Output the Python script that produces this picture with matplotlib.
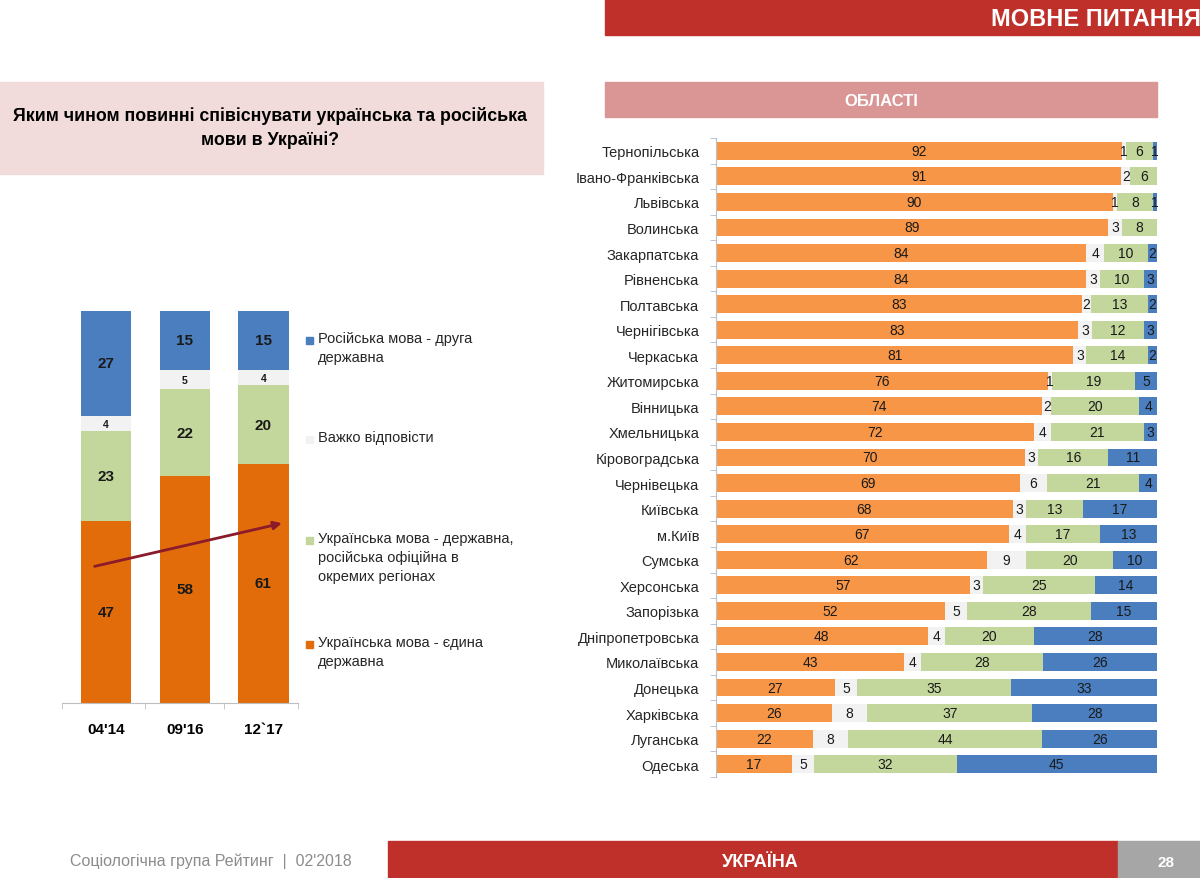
import matplotlib
matplotlib.use("Agg")
import matplotlib.pyplot as plt
from matplotlib.patches import Rectangle
import numpy as np

plt.rcParams['font.family'] = ['Liberation Sans', 'DejaVu Sans']

# ---- left chart data ----
waves = ["04'14", "09'16", "12`17"]
ukr_only = [47, 58, 61]
ukr_rus_regional = [23, 22, 20]
hard_to_say = [4, 5, 4]
rus_second = [27, 15, 15]

legend_labels = [
    "Російська мова - друга\nдержавна",
    "Важко відповісти",
    "Українська мова - державна,\nросійська офіційна в\nокремих регіонах",
    "Українська мова - єдина\nдержавна",
]

# ---- right chart data ----
regions = ["Тернопільська", "Івано-Франківська", "Львівська", "Волинська",
           "Закарпатська", "Рівненська", "Полтавська", "Чернігівська",
           "Черкаська", "Житомирська", "Вінницька", "Хмельницька",
           "Кіровоградська", "Чернівецька", "Київська", "м.Київ", "Сумська",
           "Херсонська", "Запорізька", "Дніпропетровська", "Миколаївська",
           "Донецька", "Харківська", "Луганська", "Одеська"]
reg_ukr_only = [92, 91, 90, 89, 84, 84, 83, 83, 81, 76, 74, 72, 70, 69, 68,
                67, 62, 57, 52, 48, 43, 27, 26, 22, 17]
reg_hard = [1, 2, 1, 3, 4, 3, 2, 3, 3, 1, 2, 4, 3, 6, 3, 4, 9, 3, 5, 4, 4,
            5, 8, 8, 5]
reg_ukr_rus = [6, 6, 8, 8, 10, 10, 13, 12, 14, 19, 20, 21, 16, 21, 13, 17,
               20, 25, 28, 20, 28, 35, 37, 44, 32]
reg_rus_second = [1, 0, 1, 0, 2, 3, 2, 3, 2, 5, 4, 3, 11, 4, 17, 13, 10, 14,
                  15, 28, 26, 33, 28, 26, 45]

ORANGE_DARK = '#E36C0A'
ORANGE = '#F79646'
GREEN = '#C3D69B'
GREY = '#F2F2F2'
BLUE = '#4A7EBE'
RED = '#C0302A'

W, H = 1200, 879
fig = plt.figure(figsize=(12, 8.79), dpi=100)


def box(x0, y0, x1, y1):
    return [x0 / W, 1 - y1 / H, (x1 - x0) / W, (y1 - y0) / H]


def fx(x):
    return x / W


def fy(y):
    return 1 - y / H


# ---- decorations ----
fig.add_artist(Rectangle((fx(605), fy(36)), fx(595), 36 / H, color=RED))
fig.text(fx(1201), fy(19), "МОВНЕ ПИТАННЯ", color='white', fontsize=17,
         fontweight='bold', ha='right', va='center')
fig.add_artist(Rectangle((fx(0), fy(175)), fx(543), 92 / H, color='#F2DCDB'))
fig.text(fx(270), fy(128), "Яким чином повинні співіснувати українська та російська\nмови в Україні?",
         ha='center', va='center', fontsize=12.8, fontweight='bold', linespacing=1.45)
fig.add_artist(Rectangle((fx(605), fy(118)), fx(552), 35 / H, color='#DA9694'))
fig.text(fx(881), fy(101), "ОБЛАСТІ", color='white', fontsize=12,
         fontweight='bold', ha='center', va='center')

fig.text(fx(70), fy(861), "Соціологічна група Рейтинг  |  02'2018", color='#8C8C8C',
         fontsize=11.5, ha='left', va='center')
fig.add_artist(Rectangle((fx(388), fy(879)), fx(730), 37 / H, color=RED))
fig.text(fx(760), fy(863), "УКРАЇНА", color='white', fontsize=13,
         fontweight='bold', ha='center', va='center')
fig.add_artist(Rectangle((fx(1118), fy(879)), fx(82), 37 / H, color='#A6A6A6'))
fig.text(fx(1166), fy(863), "28", color='white', fontsize=11,
         fontweight='bold', ha='center', va='center')

# ---- left stacked chart (100% stacked) ----
ax = fig.add_axes(box(62, 312, 298, 704))
x = np.arange(len(waves))
bw = 0.64
series = [(ukr_only, ORANGE_DARK), (ukr_rus_regional, GREEN),
          (hard_to_say, GREY), (rus_second, BLUE)]
totals = np.sum([s[0] for s in series], axis=0)
bottom = np.zeros(len(waves))
for vals, col in series:
    vals = np.array(vals)
    share = vals / totals * 100
    ax.bar(x, share, bw, bottom=bottom, color=col)
    for xi, b, sh, v in zip(x, bottom, share, vals):
        small = col == GREY
        ax.text(xi, b + sh / 2, str(v), ha='center', va='center',
                fontsize=7.5 if small else 11, fontweight='bold', color='#1A1A1A')
    bottom += share
ax.set_xlim(-0.56, 2.44)
ax.set_ylim(0, 100)
ax.set_yticks([])
ax.set_xticks(x)
ax.set_xticklabels(waves, fontsize=11, fontweight='bold')
ax.tick_params(axis='x', length=0, pad=14)
ax.set_xticks([-0.56, 0.5, 1.5, 2.44], minor=True)
ax.tick_params(axis='x', which='minor', length=4, color='#BFBFBF')
for s in ['top', 'right', 'left']:
    ax.spines[s].set_visible(False)
ax.spines['bottom'].set_color('#BFBFBF')
ax.annotate('', xy=(2.27, 46), xytext=(-0.18, 34.7),
            arrowprops=dict(arrowstyle='-|>', color='#8B1A2B', lw=2,
                            mutation_scale=12))

# legend, drawn by hand
leg_cols = [BLUE, GREY, GREEN, ORANGE_DARK]
leg_y = [341, 440, 541, 645]
for lab, col, yy in zip(legend_labels, leg_cols, leg_y):
    fig.add_artist(Rectangle((fx(306), fy(yy + 4)), 7 / W, 7 / H, color=col))
    fig.text(fx(318), fy(yy - 9), lab, ha='left', va='top', fontsize=10.5,
             color='#262626', linespacing=1.45)

# ---- right stacked chart (100% stacked) ----
ax2 = fig.add_axes(box(716, 139, 1157, 778))
y = np.arange(len(regions))
rseries = [(reg_ukr_only, ORANGE), (reg_hard, GREY),
           (reg_ukr_rus, GREEN), (reg_rus_second, BLUE)]
rtotals = np.sum([s[0] for s in rseries], axis=0)
left = np.zeros(len(regions))
for vals, col in rseries:
    vals = np.array(vals)
    share = vals / rtotals * 100
    ax2.barh(y, share, 0.7, left=left, color=col)
    for yi, l, sh, v in zip(y, left, share, vals):
        if v > 0:
            ax2.text(l + sh / 2, yi, str(v), ha='center', va='center',
                     fontsize=10, color='#1A1A1A')
    left += share
ax2.set_xlim(0, 100)
ax2.set_ylim(len(regions) - 0.5, -0.5)
ax2.set_xticks([])
ax2.set_yticks(y)
ax2.set_yticklabels(regions, fontsize=10.5, color='#262626')
ax2.tick_params(axis='y', length=0, pad=12)
ax2.set_yticks(np.arange(len(regions) + 1) - 0.5, minor=True)
ax2.tick_params(axis='y', which='minor', length=4, color='#A9BCD6')
for s in ['top', 'right', 'bottom']:
    ax2.spines[s].set_visible(False)
ax2.spines['left'].set_color('#BFBFBF')

fig.savefig('out.png', dpi=100)
